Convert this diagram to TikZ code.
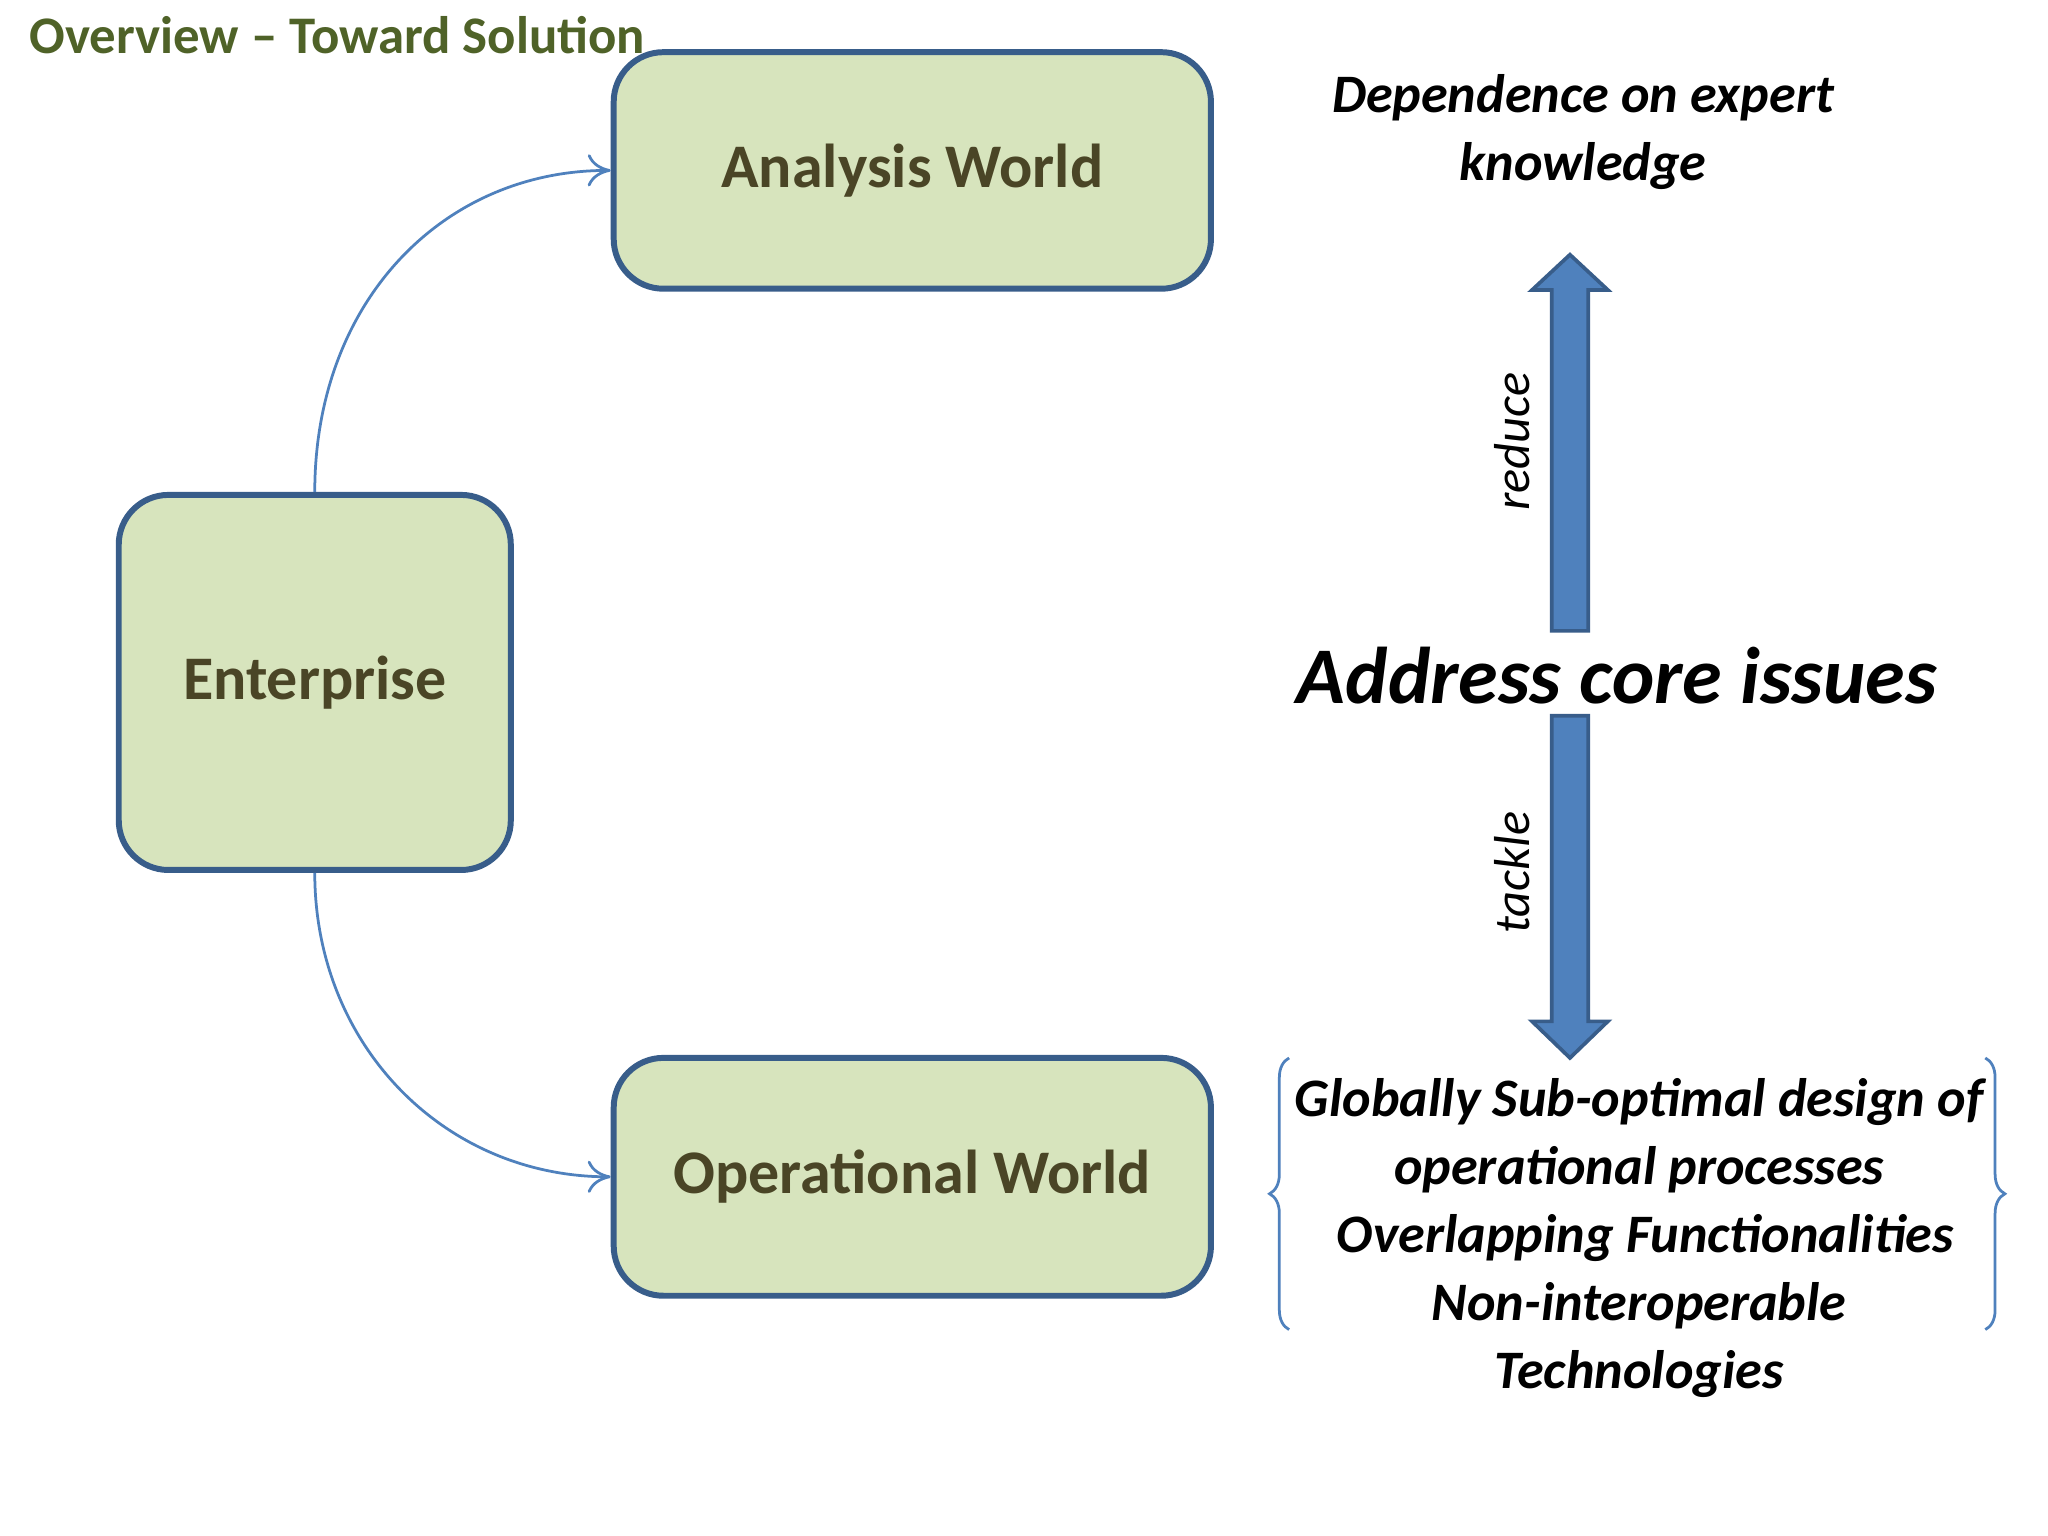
\documentclass[tikz,border=0pt]{standalone}
\usepackage{fontspec}
\setmainfont{Carlito}
\usetikzlibrary{arrows.meta,decorations.pathreplacing}
\definecolor{boxfill}{HTML}{D7E4BD}
\definecolor{boxline}{HTML}{385D8A}
\definecolor{boxtext}{HTML}{4A4526}
\definecolor{titlec}{HTML}{4F6228}
\definecolor{arrblue}{HTML}{4F81BD}
\tikzset{
  world/.style={draw=boxline, line width=1.3pt, fill=boxfill, rounded corners=0.38cm,
    font=\bfseries\fontsize{13.5}{16}\selectfont, text=boxtext, inner sep=0pt},
  note/.style={font=\bfseries\itshape\fontsize{11.8}{14.8}\selectfont, align=center, inner sep=0pt},
  link/.style={draw=arrblue, line width=0.6pt, -{To[length=5pt,width=7pt]}},
  blockarr/.style={fill=arrblue, draw=boxline, line width=0.8pt},
  vlabel/.style={font=\itshape\fontsize{11}{13}\selectfont, rotate=90, inner sep=0pt},
  br/.style={draw=arrblue, line width=0.6pt, decorate, decoration={brace, amplitude=0.15cm}}
}
\begin{document}
\begin{tikzpicture}[x=0.01cm,y=-0.01cm]
\useasboundingbox[fill=white] (0,0) rectangle (1568,1176);
\node[font=\bfseries\fontsize{11.5}{14}\selectfont, text=titlec, anchor=west, inner sep=0pt] (title) at (22,27) {Overview -- Toward Solution};
\node[world, minimum width=4.57cm, minimum height=1.81cm] (analysis) at (698.5,130.5) {Analysis World};
\node[world, minimum width=3.0cm, minimum height=2.87cm] (ent) at (241,522.5) {Enterprise};
\node[world, minimum width=4.57cm, minimum height=1.82cm] (oper) at (698.5,901) {Operational World};
\draw[link] (ent.north) .. controls (241,230) and (340,130) .. (analysis.west);
\draw[link] (ent.south) .. controls (241,800) and (340,901) .. (oper.west);
\node[note] (dep) at (1212,101) {Dependence on expert\\knowledge};
\node[font=\bfseries\itshape\fontsize{17.5}{20}\selectfont, inner sep=0pt] (core) at (1238,517) {Address core issues};
\node[note] (probs) at (1255,948) {Globally Sub-optimal design of\\operational processes\\\ Overlapping Functionalities\\Non-interoperable\\Technologies};
\draw[blockarr] (1188,483) -- (1188,222) -- (1173,222) -- (1202,195) -- (1231,222) -- (1216,222) -- (1216,483) -- cycle;
\draw[blockarr] (1188,548) -- (1188,782) -- (1173,782) -- (1202,810) -- (1231,782) -- (1216,782) -- (1216,548) -- cycle;
\node[vlabel] (reduce) at (1158,338) {reduce};
\node[vlabel] (tackle) at (1158,668) {tackle};
\coordinate (lb1) at (987,1018); \coordinate (lb2) at (987,810);
\coordinate (rb1) at (1520,810); \coordinate (rb2) at (1520,1018);
\draw[br, decoration={brace, amplitude=0.15cm}] (lb1) -- (lb2);
\draw[br] (rb1) -- (rb2);
\end{tikzpicture}
\end{document}
